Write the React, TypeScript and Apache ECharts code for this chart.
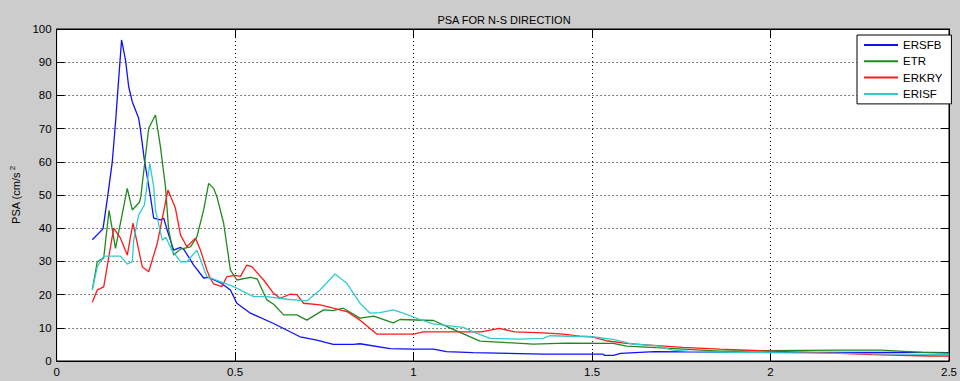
import React, { useEffect, useRef } from "react";
import * as echarts from "echarts";

const titleText = "PSA FOR N-S DIRECTION";
const seriesNames = ["ERSFB", "ETR", "ERKRY", "ERISF"];
const seriesColors = ["#1010ff", "#1e8a1e", "#ff1a1a", "#30cccc"];
const xTicks = [0, 0.5, 1, 1.5, 2, 2.5];
const yTicks = [0, 10, 20, 30, 40, 50, 60, 70, 80, 90, 100];

const ersfb: [number, number][] = [
  [0.1, 36.5], [0.13, 39.8], [0.143, 49.5], [0.156, 60], [0.165, 71.7], [0.171, 80.6],
  [0.182, 96.7], [0.193, 90.7], [0.202, 82.6], [0.212, 78.1], [0.23, 73.1], [0.235, 69.6],
  [0.246, 60.5], [0.263, 49.5], [0.272, 43], [0.291, 42.5], [0.3, 43], [0.314, 38],
  [0.328, 33.4], [0.347, 34.2], [0.356, 33.7], [0.384, 28.9], [0.412, 25], [0.426, 25.2],
  [0.46, 23.5], [0.487, 21.4], [0.505, 17.4], [0.543, 14.4], [0.608, 11.3], [0.654, 8.8],
  [0.682, 7.3], [0.729, 6.3], [0.775, 5], [0.832, 5], [0.85, 5.2], [0.934, 3.7],
  [1.0, 3.6], [1.056, 3.6], [1.092, 2.8], [1.167, 2.5], [1.363, 2.1], [1.53, 2.1],
  [1.535, 1.7], [1.56, 1.7], [1.58, 2.3], [1.675, 2.8], [2.0, 2.6], [2.43, 2.6], [2.5, 2.5],
];

const etr: [number, number][] = [
  [0.1, 21.4], [0.114, 29.9], [0.132, 31], [0.147, 45.4], [0.165, 33.9], [0.198, 52],
  [0.212, 45.5], [0.232, 47.8], [0.236, 49.5], [0.258, 70.1], [0.277, 74.1], [0.291, 64.5],
  [0.305, 52.5], [0.314, 39.5], [0.328, 31.9], [0.347, 33.7], [0.375, 34.4], [0.393, 37.4],
  [0.412, 45.5], [0.426, 53.5], [0.44, 52], [0.449, 49.5], [0.468, 41.5], [0.487, 27.4],
  [0.505, 24.4], [0.543, 25.2], [0.562, 24.7], [0.589, 18.4], [0.608, 17.1], [0.636, 13.9],
  [0.673, 13.9], [0.701, 12.3], [0.748, 15.4], [0.775, 15.2], [0.803, 15.9], [0.85, 12.9],
  [0.888, 13.5], [0.943, 11.5], [0.962, 12.5], [1.056, 12.2], [1.111, 9.5], [1.186, 6],
  [1.251, 5.6], [1.335, 5.1], [1.428, 5.4], [1.559, 5.3], [1.597, 4.5], [1.68, 4.0],
  [1.857, 3.0], [2.2, 3.3], [2.31, 3.3], [2.425, 2.6], [2.5, 2.4],
];

const erkry: [number, number][] = [
  [0.1, 17.7], [0.114, 21.4], [0.132, 22.3], [0.16, 40], [0.179, 37], [0.198, 31.9],
  [0.214, 41.5], [0.24, 28.4], [0.258, 26.9], [0.282, 35.4], [0.312, 51.5], [0.333, 46],
  [0.347, 38], [0.365, 34.4], [0.389, 37], [0.403, 33.4], [0.421, 27.4], [0.43, 25],
  [0.44, 23.2], [0.463, 22.4], [0.477, 25.4], [0.5, 25.8], [0.515, 25.5], [0.533, 28.9],
  [0.547, 28.4], [0.58, 24.4], [0.608, 20.4], [0.626, 18.9], [0.654, 20.1], [0.673, 20],
  [0.692, 17.4], [0.738, 16.9], [0.775, 15.9], [0.813, 14.9], [0.85, 12.3], [0.897, 8.1],
  [1.0, 8.1], [1.027, 8.8], [1.19, 8.8], [1.24, 9.8], [1.284, 8.8], [1.363, 8.5],
  [1.419, 8.1], [1.465, 7.5], [1.5, 7.3], [1.54, 6.1], [1.596, 5.3], [1.661, 4.8],
  [1.754, 4.1], [1.857, 3.6], [1.969, 3.1], [2.192, 2.3], [2.285, 1.9], [2.444, 1.5], [2.5, 1.5],
];

const erisf: [number, number][] = [
  [0.1, 21.4], [0.114, 28.4], [0.132, 31.6], [0.179, 31.6], [0.198, 29.2], [0.212, 29.9],
  [0.216, 36.4], [0.23, 44], [0.246, 47], [0.261, 59.5], [0.272, 52.5], [0.277, 45.5],
  [0.296, 36.4], [0.306, 37.3], [0.323, 33.4], [0.347, 29.9], [0.365, 29.9], [0.393, 33.4],
  [0.421, 25.4], [0.459, 23.9], [0.496, 22.4], [0.552, 19.4], [0.589, 19.4], [0.645, 18.6],
  [0.701, 18.1], [0.738, 21.4], [0.78, 26.2], [0.813, 23.4], [0.85, 17.4], [0.878, 14.4],
  [0.906, 14.6], [0.943, 15.4], [0.971, 14.4], [1.018, 12.5], [1.055, 11.2], [1.139, 10.1],
  [1.167, 8.8], [1.214, 6.8], [1.297, 6.6], [1.363, 6.8], [1.381, 7.6], [1.5, 7.3],
  [1.559, 6.5], [1.614, 5.1], [1.68, 4.6], [1.726, 3.3], [1.773, 2.9], [1.894, 2.6],
  [2.211, 2.3], [2.5, 1.9],
];

const seriesData = [ersfb, etr, erkry, erisf];

const FONT = "'Liberation Sans', Arial, sans-serif";

export default function App() {
  const ref = useRef<HTMLDivElement>(null);
  useEffect(() => {
    if (!ref.current) return;
    const chart = echarts.init(ref.current, undefined, { renderer: "svg" });
    const axisCommon = {
      type: "value" as const,
      axisLine: { show: true, onZero: false, lineStyle: { color: "#000", width: 1 } },
    };
    chart.setOption({
      animation: false,
      backgroundColor: "#cccccc",
      textStyle: { fontFamily: FONT },
      title: {
        text: titleText,
        left: 499,
        top: 9,
        textAlign: "center",
        textStyle: { fontSize: 11, fontWeight: "normal", color: "#000", fontFamily: FONT },
      },
      grid: {
        left: 56,
        right: 10,
        top: 29,
        bottom: 20,
        show: true,
        backgroundColor: "#ffffff",
        borderColor: "#000",
        borderWidth: 1,
        containLabel: false,
      },
      legend: {
        orient: "vertical",
        left: 857,
        top: 35,
        padding: [4, 9, 4, 6],
        itemGap: 4.3,
        itemWidth: 34,
        itemHeight: 14,
        backgroundColor: "#ffffff",
        borderColor: "#000",
        borderWidth: 1,
        borderRadius: 0,
        itemStyle: { opacity: 0 },
        lineStyle: { width: 2 },
        textStyle: { fontSize: 11.5, color: "#000", fontFamily: FONT },
        data: seriesNames,
      },
      xAxis: [
        {
          ...axisCommon,
          position: "bottom",
          min: xTicks[0],
          max: xTicks[xTicks.length - 1],
          interval: 0.5,
          axisTick: { show: true, inside: true, length: 9, lineStyle: { color: "#000" } },
          axisLabel: { show: true, color: "#000", fontSize: 11.5, margin: 5, fontFamily: FONT },
          splitLine: {
            show: true,
            showMinLine: false,
            showMaxLine: false,
            lineStyle: { color: "#000", type: [1, 3], width: 1 },
          },
        },
        {
          ...axisCommon,
          position: "top",
          min: xTicks[0],
          max: xTicks[xTicks.length - 1],
          interval: 0.5,
          axisTick: { show: true, inside: true, length: 9, lineStyle: { color: "#000" } },
          axisLabel: { show: false },
          splitLine: { show: false },
        },
      ],
      yAxis: [
        {
          ...axisCommon,
          position: "left",
          min: yTicks[0],
          max: yTicks[yTicks.length - 1],
          interval: 10,
          name: "{m|PSA (cm/s}{s|2}",
          nameLocation: "middle",
          nameGap: 31,
          nameRotate: 90,
          nameTextStyle: {
            rich: {
              m: { fontSize: 11, color: "#000", fontFamily: FONT },
              s: { fontSize: 8, color: "#000", fontFamily: FONT, padding: [0, 0, 8, 2] },
            },
          },
          axisTick: { show: true, inside: true, length: 8, lineStyle: { color: "#000" } },
          axisLabel: { show: true, color: "#000", fontSize: 11.5, margin: 5, fontFamily: FONT },
          splitLine: {
            show: true,
            showMinLine: false,
            showMaxLine: false,
            lineStyle: { color: "#000", type: [1, 3], width: 1 },
          },
        },
        {
          ...axisCommon,
          position: "right",
          min: yTicks[0],
          max: yTicks[yTicks.length - 1],
          interval: 10,
          axisTick: { show: true, inside: true, length: 8, lineStyle: { color: "#000" } },
          axisLabel: { show: false },
          splitLine: { show: false },
        },
      ],
      series: seriesNames.map((name, i) => ({
        name,
        type: "line",
        xAxisIndex: 0,
        yAxisIndex: 0,
        data: seriesData[i],
        showSymbol: false,
        symbol: "none",
        color: seriesColors[i],
        lineStyle: { color: seriesColors[i], width: 1.3 },
        z: 3 + i,
      })),
    });
    return () => chart.dispose();
  }, []);
  return (
    <div
      ref={ref}
      style={{ position: "fixed", left: 0, top: 0, width: 960, height: 381 }}
    />
  );
}
